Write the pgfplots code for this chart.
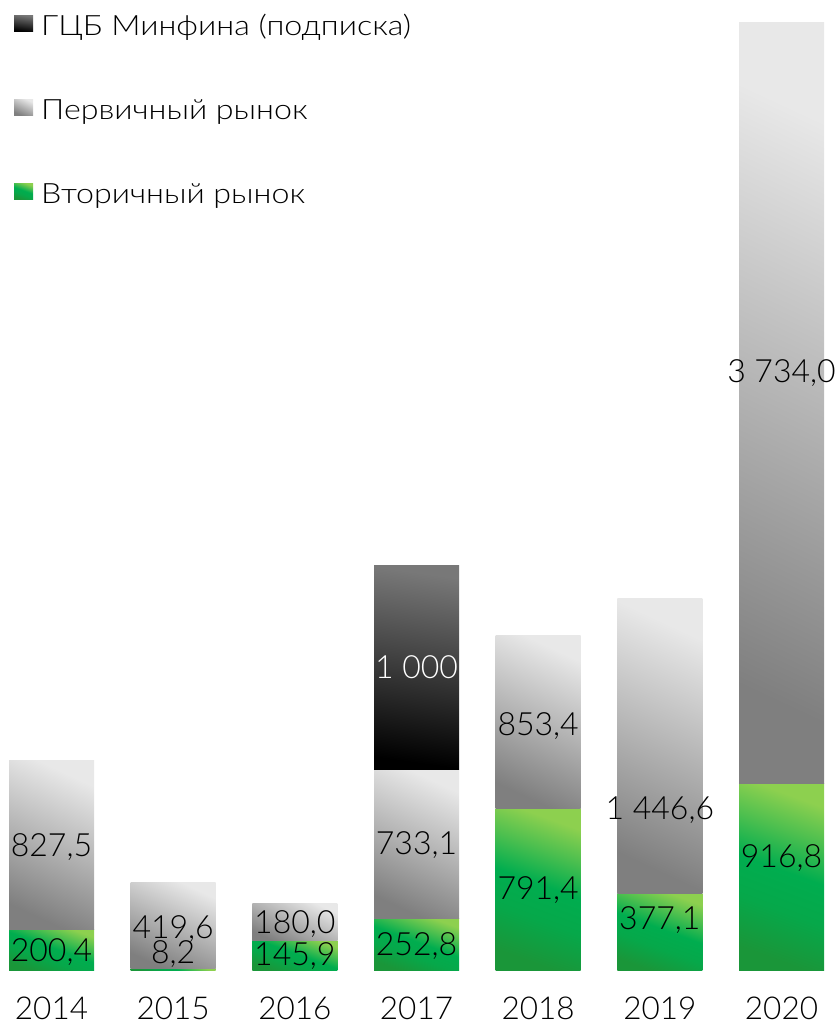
\documentclass[border=0pt]{standalone}
\usepackage{fontspec}
\setmainfont{Lato}[UprightFont=* Light]
\newfontfamily\legfont{Lato}[UprightFont=* Light, FakeStretch=1.15]
\usepackage{pgfplots}
\pgfplotsset{compat=1.18}
\definecolor{gLight}{HTML}{8DD04F}
\definecolor{gSoft}{HTML}{4CBF4F}
\definecolor{gMid}{HTML}{00AD4F}
\definecolor{gMid2}{HTML}{06A84A}
\definecolor{gDark}{HTML}{1A9639}
\definecolor{pLight}{HTML}{E8E8E8}
\definecolor{pDark}{HTML}{7F7F7F}
\definecolor{dTop}{HTML}{787878}
\definecolor{dBot}{HTML}{000000}
\pgfdeclareverticalshading{greenshade}{100bp}{color(0bp)=(gDark); color(25bp)=(gDark); color(40bp)=(gMid2); color(52bp)=(gMid); color(64bp)=(gSoft); color(75bp)=(gLight); color(100bp)=(gLight)}
\pgfplotsset{
  gseg/.style={draw=none, shade, shading=greenshade, shading angle=-20},
  pseg/.style={draw=none, top color=pLight, bottom color=pDark, shading angle=-25},
  dseg/.style={draw=none, top color=dTop, bottom color=dBot, shading angle=-8},
}
% \seg{left}{right}{base}{top}{style}
\newcommand\seg[5]{\addplot[#5, forget plot] coordinates {(#1,#3) (#2,#3) (#2,#4) (#1,#4)} -- cycle;}
\begin{document}
\begin{tikzpicture}
\begin{axis}[
  at={(0,0)}, anchor=south west,
  scale only axis, width=835pt, height=970pt,
  xmin=-0.4233, xmax=6.4397, ymin=0, ymax=4763.8,
  axis line style={draw=none}, tick style={draw=none},
  ytick=\empty, xtick={0,1,2,3,4,5,6},
  xticklabels={2014,2015,2016,2017,2018,2019,2020},
  xticklabel style={font=\fontsize{31.5}{36}\selectfont, yshift=-23pt},
  clip=false,
  legend cell align=left,
  legend style={at={(0,1)}, anchor=north west, xshift=14pt, yshift=-15pt,
    draw=none, fill=none, inner sep=0pt, row sep=64pt,
    font=\legfont\fontsize{28}{34}\selectfont,
    nodes={inner sep=0pt, text height=20pt, text depth=0pt},
    /tikz/every odd column/.append style={column sep=8pt}},
  legend image code/.code={\path[#1, draw=none] (0pt,-6pt) rectangle (19pt,10pt);},
]
\addlegendimage{dseg}
\addlegendentry{ГЦБ Минфина (подписка)}
\addlegendimage{pseg}
\addlegendentry{Первичный рынок}
\addlegendimage{gseg}
\addlegendentry{Вторичный рынок}
% 2014
\seg{-0.3493}{0.3493}{0}{200.4}{gseg}
\seg{-0.3493}{0.3493}{200.4}{1027.9}{pseg}
% 2015
\seg{0.6507}{1.3493}{0}{8.2}{gseg}
\seg{0.6507}{1.3493}{8.2}{427.8}{pseg}
% 2016
\seg{1.6507}{2.3493}{0}{145.9}{gseg}
\seg{1.6507}{2.3493}{145.9}{325.9}{pseg}
% 2017
\seg{2.6507}{3.3493}{0}{252.8}{gseg}
\seg{2.6507}{3.3493}{252.8}{985.9}{pseg}
\seg{2.6507}{3.3493}{985.9}{1985.9}{dseg}
% 2018
\seg{3.6507}{4.3493}{0}{791.4}{gseg}
\seg{3.6507}{4.3493}{791.4}{1644.8}{pseg}
% 2019
\seg{4.6507}{5.3493}{0}{377.1}{gseg}
\seg{4.6507}{5.3493}{377.1}{1823.7}{pseg}
% 2020
\seg{5.6507}{6.3493}{0}{916.8}{gseg}
\seg{5.6507}{6.3493}{916.8}{4650.8}{pseg}
% labels
\addplot[only marks, mark=none, forget plot, nodes near coords, point meta=explicit symbolic,
  nodes near coords style={anchor=center, inner sep=0pt, text height=23pt, text depth=0pt,
  font=\fontsize{32}{36}\selectfont, text=black}]
  table[meta=label] {
x y label
0 616 827,5
0 98 200,4
1 213 419,6
1 88 8,2
2 236 180,0
2 77 145,9
3 622 733,1
3 128 252,8
4 1208 853,4
4 403 791,4
5 796 1~446,6
5 254 377,1
6 2942 3~734,0
6 562 916,8
};
\addplot[only marks, mark=none, forget plot, nodes near coords, point meta=explicit symbolic,
  nodes near coords style={anchor=center, inner sep=0pt, text height=23pt, text depth=0pt,
  font=\fontsize{32}{36}\selectfont, text=white}]
  table[meta=label] {
x y label
3 1488 1~000
};
\end{axis}
\pgfresetboundingbox
\path (0pt,-54pt) rectangle (835pt,970pt);
\end{tikzpicture}
\end{document}
